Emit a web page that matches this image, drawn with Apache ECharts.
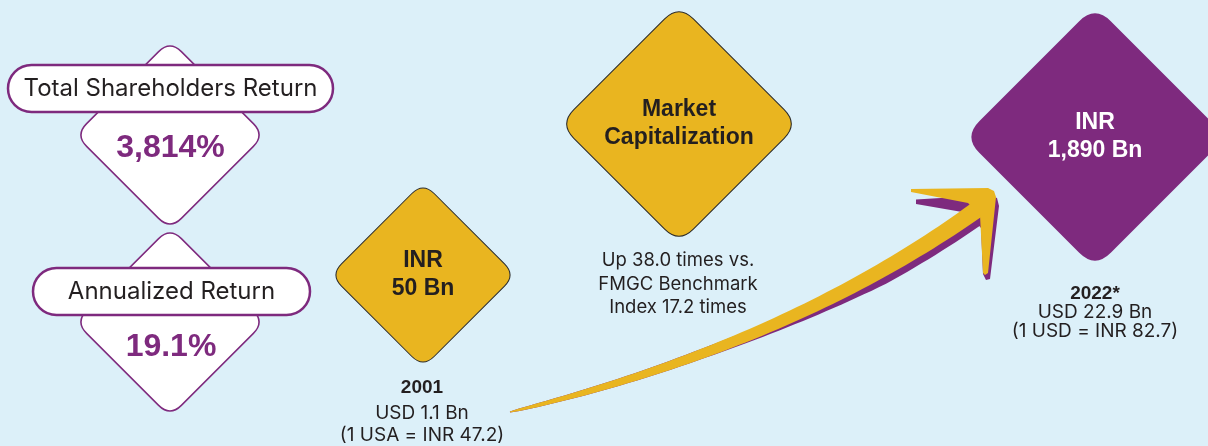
<!DOCTYPE html>
<html>
<head>
<meta charset="utf-8">
<script src="https://cdn.jsdelivr.net/npm/echarts@6/dist/echarts.min.js"></script>
<style>
  html, body { margin: 0; padding: 0; background: #dcf0f9; }
  #chart { width: 1208px; height: 446px; }
</style>
</head>
<body>
<div id="chart"></div>
<script>
// Data
const returnLabels = ['Total Shareholders Return', 'Annualized Return'];
const returnValues = ['3,814%', '19.1%'];
const capHeadline = ['Market', 'Capitalization'];
const capYears = ['2001', '2022*'];
const capInr = ['INR\n50 Bn', 'INR\n1,890 Bn'];
const capUsd = ['USD 1.1 Bn', 'USD 22.9 Bn'];
const fxNotes = ['(1 USA = INR 47.2)', '(1 USD = INR 82.7)'];
const benchmarkNote = ['Up 38.0 times vs.', 'FMGC Benchmark', 'Index 17.2 times'];

// Colours / fonts
const PURPLE = '#7e2a7e';
const GOLD = '#e9b520';
const INK = '#231f20';
const BG = '#dcf0f9';
const REG = 'Inter, "DejaVu Sans", sans-serif';
const BOLD = '"Liberation Sans", Arial, sans-serif';

// rounded square, rotated 45deg by the series
const diamondPath = 'path://M12,0 L88,0 Q100,0 100,12 L100,88 Q100,100 88,100 L12,100 Q0,100 0,88 L0,12 Q0,0 12,0 Z';

const chart = echarts.init(document.getElementById('chart'));

function boldLabel(text, color) {
  return {
    show: true,
    position: 'inside',
    formatter: text,
    color: color,
    fontFamily: BOLD,
    fontWeight: 'bold',
    fontSize: 23,
    lineHeight: 28
  };
}

const diamonds = [
  { value: [170, 135], symbolSize: 134, itemStyle: { color: '#fff', borderColor: PURPLE, borderWidth: 1.5 } },
  { value: [170, 322], symbolSize: 134, itemStyle: { color: '#fff', borderColor: PURPLE, borderWidth: 1.5 } },
  { value: [423, 275], symbolSize: 131, itemStyle: { color: GOLD, borderColor: '#2b2b2b', borderWidth: 1 },
    label: boldLabel(capInr[0], INK) },
  { value: [679, 124], symbolSize: 169, itemStyle: { color: GOLD, borderColor: '#2b2b2b', borderWidth: 1 },
    label: boldLabel(capHeadline.join('\n'), INK) },
  { value: [1095, 137], symbolSize: 186, itemStyle: { color: PURPLE, borderWidth: 0 },
    label: boldLabel(capInr[1], '#fff') }
];

// tapered curved arrow shaft; shadow=true gives the purple copy that drops below near the head
function shaft(shadow) {
  const p0 = [510, 412], c = [790, 345], p1 = [982, 206];
  const up = [], lo = [];
  const N = 60;
  for (let i = 0; i <= N; i++) {
    const t = i / N, u = 1 - t;
    const x = u * u * p0[0] + 2 * u * t * c[0] + t * t * p1[0];
    const y = u * u * p0[1] + 2 * u * t * c[1] + t * t * p1[1];
    const tx = 2 * u * (c[0] - p0[0]) + 2 * t * (p1[0] - c[0]);
    const ty = 2 * u * (c[1] - p0[1]) + 2 * t * (p1[1] - c[1]);
    const len = Math.hypot(tx, ty);
    const nx = ty / len, ny = -tx / len;
    const w = (1 + 16 * Math.pow(t, 0.6)) / 2;
    let ox = 0, oy = 0;
    if (shadow) {
      const k = Math.pow(Math.min(1, Math.max(0, (t - 0.35) / 0.4)), 1.5);
      oy = 6.5 * k;
      ox = 2 * k;
    }
    up.push([x + nx * w + ox, y + ny * w + oy]);
    lo.push([x - nx * w + ox, y - ny * w + oy]);
  }
  return up.concat(lo.reverse());
}
const headPts = [[911, 189], [988, 188], [994, 191], [996, 197], [988, 273], [985, 275], [983, 273], [980, 215], [968, 203], [911, 192]];
const headShadowPts = [[916, 199.5], [990, 195], [997, 198], [999, 206], [990, 279], [986, 280], [983, 274], [981, 228], [968, 213], [916, 204]];

function txt(x, y, text, font, color) {
  return {
    type: 'text', x: x, y: y, z: 20,
    style: { text: text, font: font, fill: color, align: 'center', verticalAlign: 'middle' }
  };
}

const graphics = [
  { type: 'polygon', z: 1, shape: { points: shaft(true) }, style: { fill: PURPLE } },
  { type: 'polygon', z: 1, shape: { points: headShadowPts }, style: { fill: PURPLE } },
  { type: 'polygon', z: 2, shape: { points: shaft(false) }, style: { fill: GOLD } },
  { type: 'polygon', z: 2, shape: { points: headPts }, style: { fill: GOLD } },

  // pills
  { type: 'rect', z: 15, shape: { x: 8, y: 65, width: 325, height: 47, r: 23.5 },
    style: { fill: '#fff', stroke: PURPLE, lineWidth: 2.5 } },
  { type: 'rect', z: 15, shape: { x: 33, y: 268, width: 277, height: 47, r: 23.5 },
    style: { fill: '#fff', stroke: PURPLE, lineWidth: 2.5 } },
  txt(170.5, 89, returnLabels[0], '24px ' + REG, INK),
  txt(171.5, 292, returnLabels[1], '24px ' + REG, INK),
  txt(170.5, 148.5, returnValues[0], 'bold 32px ' + BOLD, PURPLE),
  txt(171, 347.5, returnValues[1], 'bold 32px ' + BOLD, PURPLE),

  // 2001 caption
  txt(422, 388, capYears[0], 'bold 19px ' + BOLD, INK),
  txt(422, 413, capUsd[0], '19px ' + REG, INK),
  txt(422, 435, fxNotes[0], '19px ' + REG, INK),

  // market cap note
  txt(678, 260, benchmarkNote[0], '18.5px ' + REG, INK),
  txt(678, 284, benchmarkNote[1], '18.5px ' + REG, INK),
  txt(678, 307, benchmarkNote[2], '18.5px ' + REG, INK),

  // 2022 caption
  txt(1095, 294, capYears[1], 'bold 19px ' + BOLD, INK),
  txt(1095, 312, capUsd[1], '19px ' + REG, INK),
  txt(1095, 331, fxNotes[1], '19px ' + REG, INK)
];

chart.setOption({
  backgroundColor: BG,
  animation: false,
  grid: { left: 0, right: 0, top: 0, bottom: 0 },
  xAxis: { type: 'value', min: 0, max: 1208, show: false },
  yAxis: { type: 'value', min: 0, max: 446, inverse: true, show: false },
  series: [{
    type: 'scatter',
    symbol: diamondPath,
    symbolRotate: 45,
    data: diamonds,
    z: 5,
    itemStyle: { opacity: 1 },
    label: { show: false },
    emphasis: { disabled: true }
  }],
  graphic: graphics
});
</script>
</body>
</html>
